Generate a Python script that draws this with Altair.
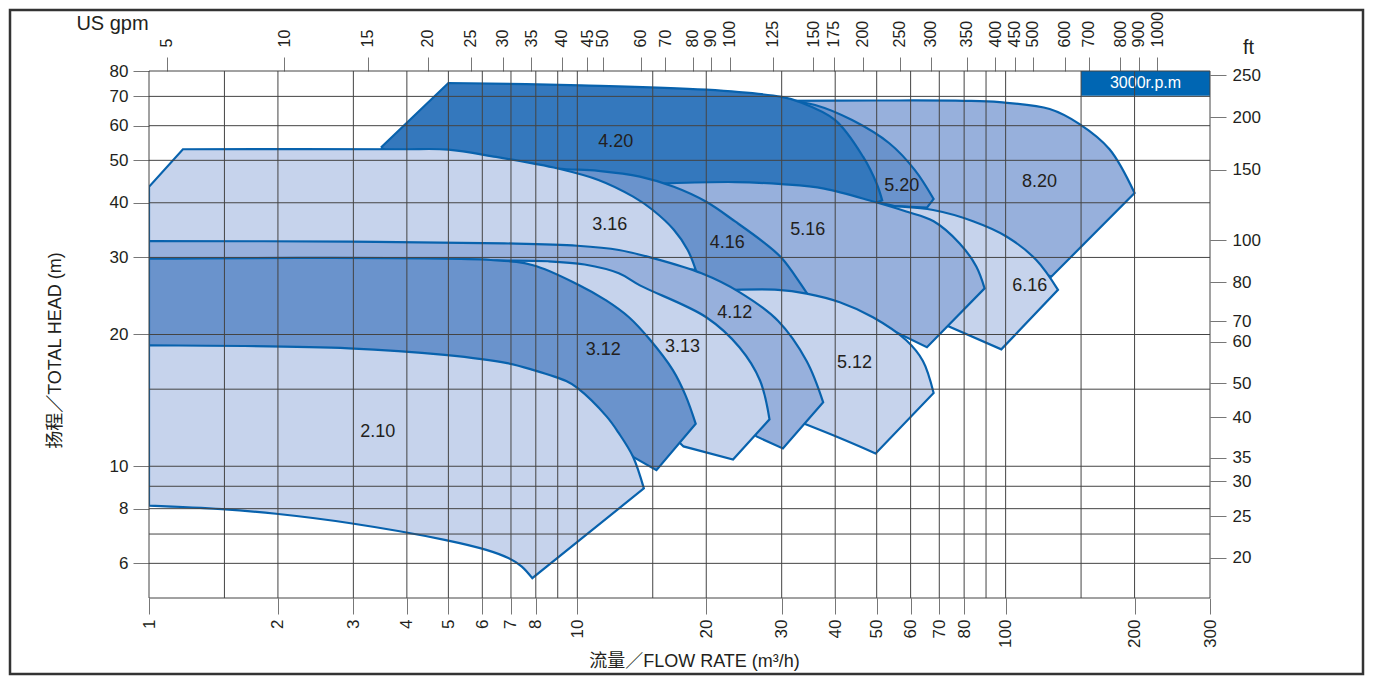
import altair as alt
import pandas as pd

FONT = "Liberation Sans, Arial, Noto Sans CJK SC, sans-serif"
STROKE = "#0862ad"
LIGHT = "#c6d3ec"
MED = "#97b0dc"
MEDDARK = "#6a93cc"
DARK = "#3478bd"

# ---- pump regions (flow m3/h, head m) ----
# *_S lists the vertices that lie on smooth curves; all other vertices are sharp corners
M820_Q = [29, 50, 80, 96.8, 126.7, 148.8, 174.8, 200, 127.8, 110, 85, 67, 55, 40, 29]
M820_H = [68.4, 68.5, 68.4, 67.9, 65.5, 60.5, 53.0, 42.1, 27.1, 29, 34, 37.5, 38.5, 45, 60]
M820_S = [1, 2, 3, 4, 5, 6]

M520_Q = [31, 35.9, 43.8, 53.5, 61.4, 67.9, 65.5, 55, 50, 40, 30]
M520_H = [68.5, 66.9, 61.8, 54.7, 47.5, 40.8, 39.0, 39.3, 40.2, 45, 55]
M520_S = [1, 2, 3, 4]

M420_Q = [3.48, 5, 10.2, 20, 30, 33, 40, 46.5, 50, 51.5, 45, 30, 17, 9, 4]
M420_H = [53.5, 75.1, 74.2, 72.5, 69.8, 68, 61.8, 50.9, 44.2, 40.5, 38.5, 38, 40, 45, 49]
M420_S = [2, 3, 4, 5, 6, 7, 8]

M616_Q = [48, 54.6, 67.7, 83.9, 100.4, 117.9, 132.5, 97.7, 73.3, 60]
M616_H = [39.6, 39.3, 38.5, 36.3, 33.5, 29.6, 25.3, 18.5, 20.9, 24]
M616_S = [1, 2, 3, 4, 5]

M516_Q = [14.5, 16.2, 23.4, 30, 37.7, 49.3, 58.6, 67.9, 78.1, 85.4, 89.3, 65.5, 54.6, 45, 34, 25, 16]
M516_H = [44.0, 44.3, 44.6, 44.1, 43.1, 40.2, 38.2, 36.3, 32.3, 28.6, 25.5, 18.7, 20.4, 21, 22, 24, 27]
M516_S = [2, 3, 4, 5, 6, 7, 8, 9]

M416_Q = [7, 9.0, 11.2, 14.0, 16.8, 20.0, 23.4, 27.1, 30.0, 34.4, 30, 20, 12, 7]
M416_H = [49.5, 47.9, 47.3, 45.9, 43.5, 40.2, 36.2, 32.6, 29.9, 24.8, 23.5, 25, 30.5, 40]
M416_S = [1, 2, 3, 4, 5, 6, 7, 8]

M316_Q = [1, 1.2, 3.85, 5, 6.46, 7.86, 9.0, 11.2, 13.5, 15.0, 16.8, 18.1, 18.9, 15, 10, 1]
M316_H = [43.5, 53.0, 53.0, 52.9, 50.9, 49.2, 47.9, 45.1, 41.3, 38.5, 34.7, 31.2, 28.1, 28.5, 31, 31.5]
M316_S = [2, 3, 4, 5, 6, 7, 8, 9, 10, 11]

M512_Q = [21, 29.4, 34.3, 41.0, 49.0, 58.6, 64.1, 67.9, 49.7, 41.0, 33.9, 28, 21]
M512_H = [25.2, 25.3, 24.8, 23.7, 21.9, 19.4, 17.4, 14.7, 10.7, 11.6, 12.5, 15, 20]
M512_S = [1, 2, 3, 4, 5, 6, 9]

M412_Q = [1, 2.93, 6.75, 10, 12.5, 15.0, 19.5, 23.9, 29.4, 34.3, 37.5, 30.2, 26.2, 22, 15, 8, 1]
M412_H = [32.7, 32.6, 32.3, 31.9, 31.2, 29.9, 27.6, 25.0, 21.5, 17.4, 14.0, 10.98, 11.7, 14, 20, 27, 27]
M412_S = [1, 2, 3, 4, 5, 6, 7, 8, 9]

M313_Q = [1, 6.3, 8.56, 10.4, 12.5, 14.0, 20.0, 23.9, 26.7, 28.1, 23.1, 17.7, 15, 10, 1]
M313_H = [29.6, 29.5, 29.4, 28.9, 27.6, 25.9, 21.9, 18.7, 15.7, 12.8, 10.36, 11.1, 13, 20, 22]
M313_S = [1, 2, 3, 4, 5, 6, 7, 8]

M312_Q = [1, 6.28, 7.88, 10, 11.7, 13.2, 14.75, 16.7, 17.9, 18.9, 15.3, 13.5, 11.7, 10, 7.88, 1]
M312_H = [29.8, 29.6, 28.8, 26.06, 23.9, 21.9, 19.5, 16.6, 14.5, 12.5, 9.8, 10.5, 12.5, 14.5, 16.0, 18.3]
M312_S = [1, 2, 3, 4, 5, 6, 7, 8]

M210_Q = [1, 2.93, 4.9, 6.86, 7.88, 9.42, 10, 11.7, 12.5, 13.5, 14.3, 7.85, 7.42, 6.9, 6.13, 4.9, 2.93,
          1.98, 1.48, 1]
M210_H = [18.9, 18.6, 17.96, 17.2, 16.6, 15.65, 15.1, 13.0, 11.9, 10.5, 8.9, 5.55, 5.9, 6.17, 6.44, 6.79,
          7.42, 7.79, 7.98, 8.13]
M210_S = [1, 2, 3, 4, 5, 6, 7, 8, 9, 12, 13, 14, 15, 16, 17, 18]

# ---- region labels ----
LABEL_TEXT = ["4.20", "3.16", "4.16", "5.16", "5.20", "8.20", "6.16", "4.12", "3.13", "3.12", "5.12", "2.10"]
LABEL_Q = [12.3, 11.9, 22.4, 34.5, 57.2, 120, 113.8, 23.3, 17.6, 11.5, 44.4, 3.42]
LABEL_H = [55, 35.6, 32.4, 34.7, 43.6, 44.5, 25.8, 22.4, 18.7, 18.4, 17.2, 12.0]

# ---- axes ----
X_TICKS = [1, 2, 3, 4, 5, 6, 7, 8, 10, 20, 30, 40, 50, 60, 70, 80, 100, 200, 300]
Y_TICKS = [6, 8, 10, 20, 30, 40, 50, 60, 70, 80]
V_GRID = [1, 1.5, 2, 3, 4, 5, 6, 7, 8, 9, 10, 15, 20, 30, 40, 50, 60, 70, 80, 90, 100, 150, 200, 300]
H_GRID = [5, 6, 7, 8, 9, 10, 15, 20, 30, 40, 50, 60, 70, 80]

GPM_LABELS = ["5", "10", "15", "20", "25", "30", "35", "40", "45", "50", "60", "70", "80", "90", "100",
              "125", "150", "175", "200", "250", "300", "350", "400", "450", "500", "600", "700", "800",
              "900", "1000"]
GPM_POS = [1.10, 2.07, 3.24, 4.47, 5.64, 6.69, 7.81, 9.20, 10.56, 11.45, 14.07, 16.05, 18.60, 20.47,
           22.69, 28.58, 35.56, 39.68, 46.38, 56.56, 66.83, 81.1, 94.5, 105.0, 115.6, 137.3, 156.2,
           185.2, 204.3, 225.7]

FT_LABELS = ["20", "25", "30", "35", "40", "50", "60", "70", "80", "100", "150", "200", "250"]
FT_POS = [6.18, 7.69, 9.24, 10.45, 12.93, 15.46, 19.25, 21.47, 26.35, 32.8, 47.6, 62.8, 78.2]

LEGEND_TEXT = "3000r.p.m"
LEGEND_Q = [150, 300]
LEGEND_H = [70.2, 80]

W, Hh = 1061, 527
xscale = alt.Scale(type="log", domain=[1, 300], nice=False)
yscale = alt.Scale(type="log", domain=[5, 80], nice=False)


def poly(qs, hs, smooth, fill):
    # closed ring; sharp corners are given twice so the spline keeps them pointed
    ring = list(range(len(qs))) + [0]
    rq, rh = [], []
    for k in ring:
        reps = 1 if k in smooth else 2
        for _ in range(reps):
            rq.append(qs[k])
            rh.append(hs[k])
    df = pd.DataFrame({"q": rq, "h": rh, "i": list(range(len(rq)))})
    return alt.Chart(df).mark_line(fill=fill, stroke=STROKE, strokeWidth=2.2, clip=True,
                                   strokeJoin="miter", interpolate="catmull-rom").encode(
        x=alt.X("q:Q", scale=xscale, axis=None),
        y=alt.Y("h:Q", scale=yscale, axis=None),
        order="i:Q",
    )


polys = [
    poly(M820_Q, M820_H, M820_S, MED),
    poly(M520_Q, M520_H, M520_S, MEDDARK),
    poly(M420_Q, M420_H, M420_S, DARK),
    poly(M616_Q, M616_H, M616_S, LIGHT),
    poly(M516_Q, M516_H, M516_S, MED),
    poly(M416_Q, M416_H, M416_S, MEDDARK),
    poly(M316_Q, M316_H, M316_S, LIGHT),
    poly(M512_Q, M512_H, M512_S, LIGHT),
    poly(M412_Q, M412_H, M412_S, MED),
    poly(M313_Q, M313_H, M313_S, LIGHT),
    poly(M312_Q, M312_H, M312_S, MEDDARK),
    poly(M210_Q, M210_H, M210_S, LIGHT),
]

leg_df = pd.DataFrame({"q0": [LEGEND_Q[0]], "q1": [LEGEND_Q[1]], "h0": [LEGEND_H[0]], "h1": [LEGEND_H[1]],
                       "t": [LEGEND_TEXT]})
legend_box = alt.Chart(leg_df).mark_rect(fill="#0066b3").encode(
    x=alt.X("q0:Q", scale=xscale, axis=None), x2="q1:Q",
    y=alt.Y("h0:Q", scale=yscale, axis=None), y2="h1:Q")
legend_txt = alt.Chart(leg_df).transform_calculate(
    qm="sqrt(datum.q0*datum.q1)", hm="sqrt(datum.h0*datum.h1)"
).mark_text(color="white", fontSize=16, font=FONT).encode(
    x=alt.X("qm:Q", scale=xscale, axis=None),
    y=alt.Y("hm:Q", scale=yscale, axis=None), text="t:N")

vgrid = alt.Chart(pd.DataFrame({"q": V_GRID})).mark_rule(color="#444", strokeWidth=1).encode(
    x=alt.X("q:Q", scale=xscale, axis=None))
hgrid = alt.Chart(pd.DataFrame({"h": H_GRID})).mark_rule(color="#444", strokeWidth=1).encode(
    y=alt.Y("h:Q", scale=yscale, axis=None))

labels = alt.Chart(pd.DataFrame({"q": LABEL_Q, "h": LABEL_H, "t": LABEL_TEXT})).mark_text(
    fontSize=18, font=FONT, color="#231f20").encode(
    x=alt.X("q:Q", scale=xscale, axis=None),
    y=alt.Y("h:Q", scale=yscale, axis=None), text="t:N")

frame = alt.Chart(pd.DataFrame({"a": [0]})).mark_rect(filled=False, stroke="#333", strokeWidth=2.5).encode(
    x=alt.value(-139), x2=alt.value(W + 153), y=alt.value(-61), y2=alt.value(Hh + 76))

main = alt.layer(*polys, legend_box, legend_txt, vgrid, hgrid, labels, frame)

axes = alt.Chart(pd.DataFrame({"q": [1.0], "h": [5.0]})).mark_point(opacity=0).encode(
    x=alt.X("q:Q", scale=xscale, axis=alt.Axis(
        orient="bottom", values=X_TICKS, format="d", labelAngle=270, tickSize=16, labelPadding=5,
        labelFontSize=17, domain=False, grid=False, tickColor="#777", labelFlush=False,
        labelOverlap=False, title="流量／FLOW RATE (m³/h)", titleFontSize=18, titleFontWeight="normal",
        titleX=545, titleY=63, titleBaseline="middle", titleAlign="center", titleAnchor="start")),
    y=alt.Y("h:Q", scale=yscale, axis=alt.Axis(
        orient="left", values=Y_TICKS, format="d", tickSize=16, labelPadding=5, labelFontSize=17,
        domain=False, grid=False, tickColor="#777", labelOverlap=False, labelFlush=False,
        title="扬程／TOTAL HEAD (m)", titleFontSize=18, titleFontWeight="normal", titleAngle=270,
        titleX=-94, titleY=279, titleBaseline="middle", titleAlign="center", titleAnchor="start")),
)

gpm_expr = "[" + ",".join("'%s'" % s for s in GPM_LABELS) + "][indexof([" + ",".join(
    repr(v) for v in GPM_POS) + "], datum.value)]"
top = alt.Chart(pd.DataFrame({"p": GPM_POS})).mark_point(opacity=0).encode(
    x=alt.X("p:Q", scale=xscale, axis=alt.Axis(
        orient="top", values=GPM_POS, labelExpr=gpm_expr, labelAngle=270, tickSize=14,
        labelPadding=10, labelFontSize=16, domain=False, grid=False, tickColor="#777",
        labelFlush=False, labelOverlap=False, title="US gpm", titleFontSize=20,
        titleFontWeight="normal", titleAngle=0, titleX=-37, titleY=-48, titleBaseline="middle",
        titleAlign="center", titleAnchor="start")))

ft_expr = "[" + ",".join("'%s'" % s for s in FT_LABELS) + "][indexof([" + ",".join(
    repr(v) for v in FT_POS) + "], datum.value)]"
right = alt.Chart(pd.DataFrame({"p": FT_POS})).mark_point(opacity=0).encode(
    y=alt.Y("p:Q", scale=yscale, axis=alt.Axis(
        orient="right", values=FT_POS, labelExpr=ft_expr, tickSize=16, labelPadding=6,
        labelFontSize=17, domain=False, grid=False, tickColor="#777", labelOverlap=False,
        labelFlush=False, title="ft", titleFontSize=20, titleFontWeight="normal", titleAngle=0,
        titleX=38, titleY=-24, titleBaseline="middle", titleAlign="center", titleAnchor="start")))

chart = alt.layer(main, axes, top, right).resolve_scale(
    x="independent", y="independent"
).properties(
    width=W, height=Hh,
    padding={"left": 141, "top": 63, "right": 155, "bottom": 78},
    autosize=alt.AutoSizeParams(type="none"),
).configure_view(stroke=None).configure_axis(
    labelFont=FONT, titleFont=FONT, labelColor="#231f20", titleColor="#231f20"
)

chart.save("out.html", embed_options={"renderer": "svg", "actions": False})
